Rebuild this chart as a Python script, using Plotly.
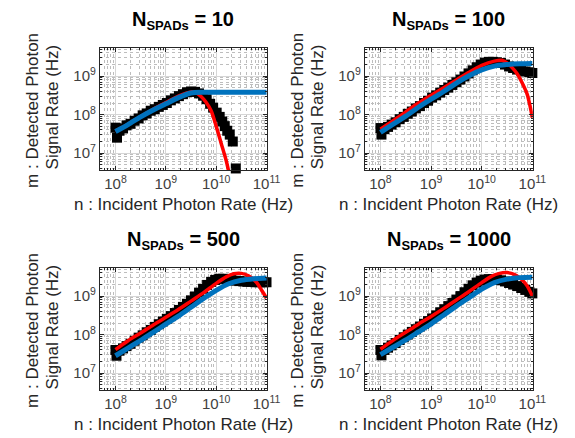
import numpy as np
import plotly.graph_objects as go

W, H = 575, 438

# ---------------- data (values are log10 of Hz) ----------------
spad_counts = [10, 100, 500, 1000]

# N_SPADs = 10
n10_meas_x = [8.00, 8.03, 8.08, 8.15, 8.22, 8.30, 8.38, 8.46, 8.54, 8.62, 8.70, 8.78, 8.86, 8.94,
              9.02, 9.10, 9.18, 9.26, 9.34, 9.42, 9.50, 9.58, 9.66, 9.74, 9.81, 9.88, 9.94, 10.01,
              10.07, 10.12, 10.17, 10.22, 10.27, 10.33, 10.39]
n10_meas_y = [7.66, 7.40, 7.58, 7.64, 7.72, 7.76, 7.84, 7.90, 7.98, 8.03, 8.10, 8.14, 8.20, 8.25,
              8.30, 8.37, 8.42, 8.48, 8.53, 8.58, 8.60, 8.59, 8.55, 8.49, 8.40, 8.28, 8.18, 8.05,
              7.94, 7.82, 7.70, 7.58, 7.48, 7.30, 6.60]
n10_red_x = [8.00, 8.25, 8.50, 8.75, 9.00, 9.25, 9.50, 9.60, 9.70, 9.80, 9.90, 10.00, 10.10, 10.20, 10.26]
n10_red_y = [7.57, 7.75, 7.95, 8.14, 8.31, 8.48, 8.59, 8.57, 8.47, 8.32, 8.10, 7.70, 7.25, 6.80, 6.45]
n10_blue_x = [8.00, 8.25, 8.50, 8.75, 9.00, 9.25, 9.50, 9.75, 10.00, 10.50, 11.00]
n10_blue_y = [7.56, 7.74, 7.94, 8.12, 8.28, 8.44, 8.56, 8.58, 8.58, 8.58, 8.58]

# N_SPADs = 100
n100_meas_x = [8.00, 8.02, 8.08, 8.15, 8.22, 8.30, 8.38, 8.46, 8.54, 8.62, 8.70, 8.78, 8.86, 8.94,
               9.02, 9.10, 9.18, 9.26, 9.34, 9.42, 9.50, 9.58, 9.66, 9.74, 9.82, 9.90, 9.98, 10.06,
               10.14, 10.22, 10.30, 10.38, 10.46, 10.54, 10.62, 10.70, 10.78, 10.86, 10.94, 11.00]
n100_meas_y = [7.65, 7.48, 7.62, 7.68, 7.74, 7.80, 7.88, 7.94, 8.02, 8.08, 8.16, 8.22, 8.30, 8.36,
               8.44, 8.50, 8.57, 8.64, 8.70, 8.77, 8.84, 8.91, 8.99, 9.07, 9.15, 9.23, 9.30, 9.35,
               9.37, 9.37, 9.36, 9.34, 9.30, 9.25, 9.21, 9.17, 9.14, 9.12, 9.10, 9.08]
n100_red_x = [8.00, 8.25, 8.50, 8.75, 9.00, 9.25, 9.50, 9.75, 10.00, 10.25, 10.40, 10.50, 10.60,
              10.70, 10.80, 10.90, 10.95, 11.00]
n100_red_y = [7.62, 7.84, 8.07, 8.30, 8.50, 8.70, 8.90, 9.10, 9.28, 9.39, 9.41, 9.34, 9.22,
              9.06, 8.82, 8.52, 8.25, 7.92]
n100_blue_x = [8.00, 8.25, 8.50, 8.75, 9.00, 9.25, 9.50, 9.75, 10.00, 10.25, 10.50, 10.75, 11.00]
n100_blue_y = [7.54, 7.75, 7.96, 8.19, 8.40, 8.60, 8.82, 9.01, 9.16, 9.26, 9.30, 9.32, 9.33]

# N_SPADs = 500
n500_meas_x = [8.00, 8.02, 8.08, 8.15, 8.22, 8.30, 8.38, 8.46, 8.54, 8.62, 8.70, 8.78, 8.86, 8.94,
               9.02, 9.10, 9.18, 9.26, 9.34, 9.42, 9.50, 9.58, 9.66, 9.74, 9.82, 9.90, 9.98, 10.06,
               10.14, 10.22, 10.30, 10.38, 10.46, 10.54, 10.62, 10.70, 10.78, 10.86, 10.94, 11.00]
n500_meas_y = [7.60, 7.45, 7.58, 7.64, 7.70, 7.76, 7.84, 7.92, 7.98, 8.06, 8.12, 8.20, 8.27, 8.34,
               8.41, 8.48, 8.56, 8.64, 8.72, 8.80, 8.89, 8.99, 9.09, 9.19, 9.29, 9.37, 9.42, 9.45,
               9.45, 9.44, 9.42, 9.40, 9.39, 9.38, 9.37, 9.37, 9.36, 9.36, 9.36, 9.36]
n500_red_x = [8.00, 8.25, 8.50, 8.75, 9.00, 9.25, 9.50, 9.75, 10.00, 10.20, 10.35, 10.50, 10.65,
              10.80, 10.90, 11.00]
n500_red_y = [7.61, 7.84, 8.04, 8.25, 8.45, 8.65, 8.87, 9.09, 9.33, 9.50, 9.58, 9.59, 9.52,
              9.36, 9.16, 8.95]
n500_blue_x = [8.00, 8.25, 8.50, 8.75, 9.00, 9.25, 9.50, 9.75, 10.00, 10.25, 10.50, 10.75, 11.00]
n500_blue_y = [7.45, 7.65, 7.85, 8.06, 8.27, 8.48, 8.71, 8.94, 9.15, 9.32, 9.41, 9.45, 9.47]

# N_SPADs = 1000
n1000_meas_x = [8.00, 8.02, 8.08, 8.15, 8.22, 8.30, 8.38, 8.46, 8.54, 8.62, 8.70, 8.78, 8.86, 8.94,
                9.02, 9.10, 9.18, 9.26, 9.34, 9.42, 9.50, 9.58, 9.66, 9.74, 9.82, 9.90, 9.98, 10.06,
                10.14, 10.22, 10.30, 10.38, 10.46, 10.54, 10.62, 10.70, 10.78, 10.86, 10.94, 11.00]
n1000_meas_y = [7.60, 7.46, 7.60, 7.66, 7.72, 7.78, 7.86, 7.93, 8.00, 8.07, 8.14, 8.21, 8.28, 8.35,
                8.42, 8.50, 8.58, 8.66, 8.74, 8.82, 8.91, 9.00, 9.10, 9.19, 9.28, 9.35, 9.40, 9.43,
                9.44, 9.44, 9.43, 9.41, 9.38, 9.34, 9.30, 9.26, 9.21, 9.16, 9.11, 9.07]
n1000_red_x = [8.00, 8.25, 8.50, 8.75, 9.00, 9.25, 9.50, 9.75, 10.00, 10.20, 10.35, 10.50, 10.65,
               10.80, 10.90, 11.00]
n1000_red_y = [7.62, 7.85, 8.06, 8.27, 8.47, 8.68, 8.90, 9.12, 9.35, 9.52, 9.59, 9.61, 9.56,
               9.42, 9.26, 9.00]
n1000_blue_x = [8.00, 8.25, 8.50, 8.75, 9.00, 9.25, 9.50, 9.75, 10.00, 10.25, 10.50, 10.75, 11.00]
n1000_blue_y = [7.48, 7.67, 7.86, 8.07, 8.28, 8.51, 8.74, 8.96, 9.18, 9.35, 9.44, 9.48, 9.49]

x_tick_exps = [8, 9, 10, 11]
y_tick_exps = [7, 8, 9]
x_label = "n : Incident Photon Rate (Hz)"
y_label_lines = ["m : Detected Photon", "Signal Rate (Hz)"]

panels = [
    (n10_meas_x, n10_meas_y, n10_red_x, n10_red_y, n10_blue_x, n10_blue_y),
    (n100_meas_x, n100_meas_y, n100_red_x, n100_red_y, n100_blue_x, n100_blue_y),
    (n500_meas_x, n500_meas_y, n500_red_x, n500_red_y, n500_blue_x, n500_blue_y),
    (n1000_meas_x, n1000_meas_y, n1000_red_x, n1000_red_y, n1000_blue_x, n1000_blue_y),
]

# ---------------- styling / layout ----------------
FONT = "Liberation Sans, Arial, sans-serif"
TXT = "#262626"
BLUE = "#0072BD"
RED = "#FF0000"

# pixel boxes of the four axes (left, right, top, bottom)
boxes = [(94, 265, 40, 162), (365, 537, 40, 162), (94, 265, 260, 382), (365, 537, 260, 382)]

def px(x):
    return x / W

def py(y):
    return 1 - y / H

def hz(v):
    return [10 ** e for e in v]

minor_vals = [m * 10 ** e for e in range(6, 12) for m in range(2, 10)]

fig = go.Figure()
layout = dict(
    width=W, height=H, margin=dict(l=0, r=0, t=0, b=0),
    paper_bgcolor="white", plot_bgcolor="white", showlegend=False,
    font=dict(family=FONT, color=TXT),
)
annotations = []

for i, (mx, my, rx, ry, bx, by) in enumerate(panels):
    k = "" if i == 0 else str(i + 1)
    xa, ya = "x" + k, "y" + k
    fig.add_trace(go.Scatter(x=hz(mx), y=hz(my), mode="markers", xaxis=xa, yaxis=ya,
                             marker=dict(symbol="square", size=10, color="black", line=dict(width=0)),
                             cliponaxis=False))
    fig.add_trace(go.Scatter(x=hz(rx), y=hz(ry), mode="lines", xaxis=xa, yaxis=ya,
                             line=dict(color=RED, width=3.5, shape="spline", smoothing=0.8)))
    fig.add_trace(go.Scatter(x=hz(bx), y=hz(by), mode="lines", xaxis=xa, yaxis=ya,
                             line=dict(color=BLUE, width=5, shape="spline", smoothing=0.8)))

    l, r, t, b = boxes[i]
    common = dict(
        type="log", showline=True, linecolor=TXT, linewidth=1, mirror="ticks",
        ticks="inside", ticklen=4, tickcolor=TXT, tickmode="array",
        showgrid=True, gridcolor="#d6d6d6", gridwidth=1, zeroline=False,
        tickfont=dict(family=FONT, size=15, color="#404040"),
        minor=dict(tickmode="array", tickvals=minor_vals, ticks="inside", ticklen=2,
                   tickcolor=TXT, showgrid=True, gridcolor="#bdbdbd", griddash="dot", gridwidth=1),
    )
    layout["xaxis" + k] = dict(common, domain=[px(l), px(r)], anchor=ya, range=[7.69, 11.01],
                               tickvals=[10 ** e for e in x_tick_exps],
                               ticktext=["10<sup>%d</sup>" % e for e in x_tick_exps])
    layout["yaxis" + k] = dict(common, domain=[py(b), py(t)], anchor=xa, range=[6.56, 9.73],
                               tickvals=[10 ** e for e in y_tick_exps],
                               ticktext=["10<sup>%d</sup>" % e for e in y_tick_exps])

    cx = (l + r) / 2
    cy = (t + b) / 2
    # title
    annotations.append(dict(
        xref="paper", yref="paper", x=px(cx), y=py(t - 28), xanchor="center", yanchor="middle",
        showarrow=False,
        text="<b>N<sub><span style='font-size:13px'>SPADs</span></sub> = %d</b>" % spad_counts[i],
        font=dict(family=FONT, size=20, color="black")))
    # x label
    annotations.append(dict(
        xref="paper", yref="paper", x=px(cx), y=py(b + 34), xanchor="center", yanchor="middle",
        showarrow=False, text=x_label, font=dict(family=FONT, size=17, color=TXT)))
    # y label (two lines)
    for j, line in enumerate(y_label_lines):
        annotations.append(dict(
            xref="paper", yref="paper", x=px(l - 69 + 21 * j), y=py(cy + 1.5 - 4 * j),
            xanchor="center", yanchor="middle", textangle=-90,
            showarrow=False, text=line, font=dict(family=FONT, size=17, color=TXT)))

layout["annotations"] = annotations
fig.update_layout(**layout)
fig.write_html("out.html")
